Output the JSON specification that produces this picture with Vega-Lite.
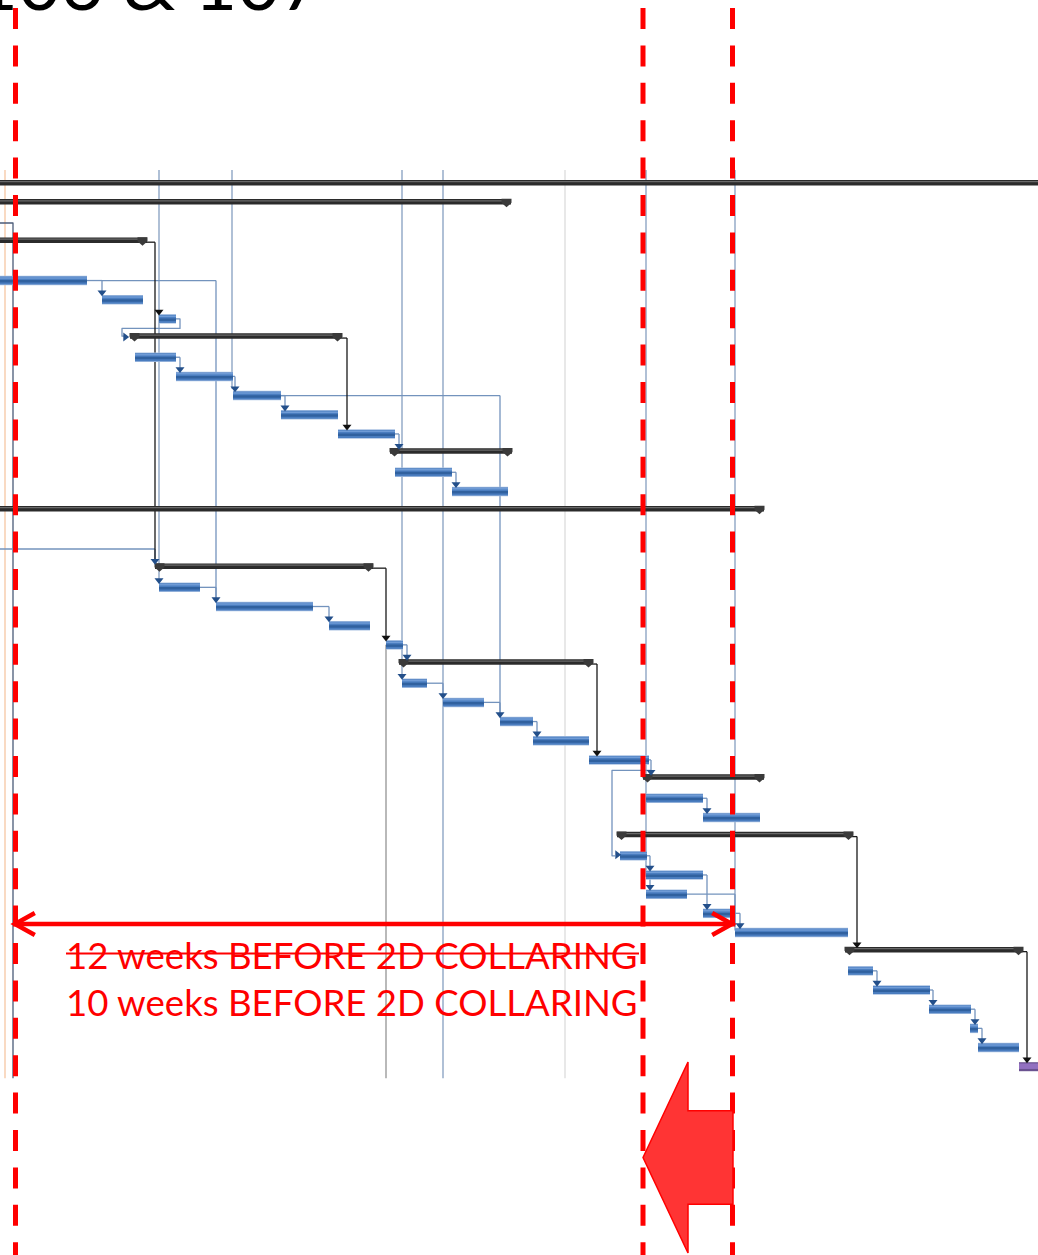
{
  "$schema": "https://vega.github.io/schema/vega-lite/v6.json",
  "width": 1038,
  "height": 1255,
  "autosize": "none",
  "padding": 0,
  "background": "white",
  "config": {"view": {"stroke": null}},
  "datasets": {
    "tasks": [
      {"r": 5, "s": -2, "e": 8.7}, {"r": 6, "s": 10.2, "e": 14.3}, {"r": 7, "s": 15.9, "e": 17.6},
      {"r": 9, "s": 13.5, "e": 17.6}, {"r": 10, "s": 17.6, "e": 23.3}, {"r": 11, "s": 23.3, "e": 28.1},
      {"r": 12, "s": 28.1, "e": 33.8}, {"r": 13, "s": 33.8, "e": 39.5}, {"r": 15, "s": 39.5, "e": 45.2},
      {"r": 16, "s": 45.2, "e": 50.8}, {"r": 21, "s": 15.9, "e": 20.0}, {"r": 22, "s": 21.6, "e": 31.3},
      {"r": 23, "s": 32.9, "e": 37.0}, {"r": 24, "s": 38.6, "e": 40.3}, {"r": 26, "s": 40.2, "e": 42.7},
      {"r": 27, "s": 44.3, "e": 48.4}, {"r": 28, "s": 50.0, "e": 53.3}, {"r": 29, "s": 53.3, "e": 58.9},
      {"r": 30, "s": 58.9, "e": 64.9}, {"r": 32, "s": 64.6, "e": 70.3}, {"r": 33, "s": 70.3, "e": 76.0},
      {"r": 35, "s": 62.0, "e": 64.7}, {"r": 36, "s": 64.6, "e": 70.3}, {"r": 37, "s": 64.6, "e": 68.7},
      {"r": 38, "s": 70.3, "e": 73.2}, {"r": 39, "s": 73.5, "e": 84.8}, {"r": 41, "s": 84.8, "e": 87.3},
      {"r": 42, "s": 87.3, "e": 93.0}, {"r": 43, "s": 92.9, "e": 97.1}, {"r": 44, "s": 97.0, "e": 97.8},
      {"r": 45, "s": 97.8, "e": 101.9}
    ],
    "ms": [{"r": 46, "s": 101.9, "e": 104.5}],
    "sums": [
      {"r": 0, "s": -2, "e": 106}, {"r": 1, "s": -2, "e": 51.1}, {"r": 3, "s": -2, "e": 14.7},
      {"r": 8, "s": 13.0, "e": 34.2}, {"r": 14, "s": 39.0, "e": 51.2}, {"r": 17, "s": -2, "e": 76.4},
      {"r": 20, "s": 15.5, "e": 37.3}, {"r": 25, "s": 39.9, "e": 59.3}, {"r": 31, "s": 64.3, "e": 76.4},
      {"r": 34, "s": 61.7, "e": 85.3}, {"r": 40, "s": 84.5, "e": 102.3}
    ],
    "links": [
      {"x1": 8.7, "xt": 10.2, "r1": 5, "r2": 6, "k": "blue"},
      {"x1": 10.2, "xt": 21.6, "r1": 5, "r2": 22, "k": "blue"},
      {"x1": 17.6, "xt": 18.0, "r1": 9, "r2": 10, "k": "blue"},
      {"x1": 23.3, "xt": 23.5, "r1": 10, "r2": 11, "k": "blue"},
      {"x1": 28.1, "xt": 28.5, "r1": 11, "r2": 12, "k": "blue"},
      {"x1": 28.1, "xt": 50.0, "r1": 11, "r2": 28, "k": "blue"},
      {"x1": 39.5, "xt": 39.9, "r1": 13, "r2": 14, "k": "blue"},
      {"x1": 45.2, "xt": 45.6, "r1": 15, "r2": 16, "k": "blue"},
      {"x1": -2, "xt": 15.5, "r1": 19, "r2": 20, "k": "blue"},
      {"x1": 20.0, "xt": 21.6, "r1": 21, "r2": 22, "k": "blue"},
      {"x1": 31.3, "xt": 32.9, "r1": 22, "r2": 23, "k": "blue"},
      {"x1": 40.3, "xt": 40.7, "r1": 24, "r2": 25, "k": "blue"},
      {"x1": 42.7, "xt": 44.3, "r1": 26, "r2": 27, "k": "blue"},
      {"x1": 48.4, "xt": 50.0, "r1": 27, "r2": 28, "k": "blue"},
      {"x1": 53.3, "xt": 53.7, "r1": 28, "r2": 29, "k": "blue"},
      {"x1": 64.9, "xt": 65.1, "r1": 30, "r2": 31, "k": "blue"},
      {"x1": 70.3, "xt": 70.7, "r1": 32, "r2": 33, "k": "blue"},
      {"x1": 64.7, "xt": 65.0, "r1": 35, "r2": 37, "k": "blue"},
      {"x1": 70.3, "xt": 70.7, "r1": 36, "r2": 38, "k": "blue"},
      {"x1": 68.7, "xt": 73.5, "r1": 37, "r2": 39, "k": "blue"},
      {"x1": 73.2, "xt": 74.0, "r1": 38, "r2": 39, "k": "blue"},
      {"x1": 87.3, "xt": 87.7, "r1": 41, "r2": 42, "k": "blue"},
      {"x1": 93.0, "xt": 93.3, "r1": 42, "r2": 43, "k": "blue"},
      {"x1": 97.1, "xt": 97.5, "r1": 43, "r2": 44, "k": "blue"},
      {"x1": 97.8, "xt": 98.2, "r1": 44, "r2": 45, "k": "blue"},
      {"x1": 14.7, "xt": 15.5, "r1": 3, "r2": 20, "k": "black"},
      {"x1": 34.2, "xt": 34.7, "r1": 8, "r2": 13, "k": "black"},
      {"x1": 37.3, "xt": 38.6, "r1": 20, "r2": 24, "k": "black"},
      {"x1": 59.3, "xt": 59.7, "r1": 25, "r2": 30, "k": "black"},
      {"x1": 85.3, "xt": 85.7, "r1": 34, "r2": 40, "k": "black"},
      {"x1": 102.3, "xt": 102.7, "r1": 40, "r2": 46, "k": "black"}
    ],
    "paths": [
      {"id": 1, "o": 1, "x": 17.6, "r": 7, "k": "blue"}, {"id": 1, "o": 2, "x": 18.0, "r": 7, "k": "blue"},
      {"id": 1, "o": 3, "x": 18.0, "r": 7.5, "k": "blue"}, {"id": 1, "o": 4, "x": 12.2, "r": 7.5, "k": "blue"},
      {"id": 1, "o": 5, "x": 12.2, "r": 7.9, "k": "blue"}, {"id": 1, "o": 6, "x": 12.4, "r": 7.9, "k": "blue"},
      {"id": 2, "o": 1, "x": 65.1, "r": 30.55, "k": "blue"}, {"id": 2, "o": 2, "x": 61.2, "r": 30.55, "k": "blue"},
      {"id": 2, "o": 3, "x": 61.2, "r": 35, "k": "blue"}, {"id": 2, "o": 4, "x": 61.5, "r": 35, "k": "blue"},
      {"id": 3, "o": 1, "x": -2, "r": 2.0, "k": "dark"}, {"id": 3, "o": 2, "x": 1.3, "r": 2.0, "k": "dark"},
      {"id": 3, "o": 3, "x": 1.3, "r": 46.6, "k": "dark"}
    ],
    "vlines": [
      {"x": 0.5, "r1": -0.66, "r2": 46.7, "k": "orange"},
      {"x": 15.9, "r1": -0.66, "r2": 20.75, "k": "status"},
      {"x": 23.2, "r1": -0.66, "r2": 10.75, "k": "status"},
      {"x": 40.2, "r1": -0.66, "r2": 25.75, "k": "status"},
      {"x": 44.3, "r1": -0.66, "r2": 46.7, "k": "status"},
      {"x": 56.5, "r1": -0.66, "r2": 46.7, "k": "light"},
      {"x": 64.6, "r1": -0.66, "r2": 36.2, "k": "status"},
      {"x": 73.5, "r1": -0.66, "r2": 39.0, "k": "status"},
      {"x": 38.6, "r1": 24.1, "r2": 46.7, "k": "gray"}
    ],
    "arrD": [
      {"x": 10.2, "r": 6}, {"x": 21.6, "r": 22}, {"x": 18.0, "r": 10}, {"x": 23.5, "r": 11},
      {"x": 28.5, "r": 12}, {"x": 50.0, "r": 28}, {"x": 39.9, "r": 14}, {"x": 45.6, "r": 16},
      {"x": 15.5, "r": 20}, {"x": 15.9, "r": 21}, {"x": 32.9, "r": 23}, {"x": 40.7, "r": 25},
      {"x": 40.2, "r": 26}, {"x": 44.3, "r": 27}, {"x": 53.7, "r": 29}, {"x": 65.1, "r": 31},
      {"x": 70.7, "r": 33}, {"x": 65.0, "r": 36}, {"x": 65.0, "r": 37}, {"x": 70.7, "r": 38},
      {"x": 74.0, "r": 39}, {"x": 87.7, "r": 42}, {"x": 93.3, "r": 43}, {"x": 97.5, "r": 44},
      {"x": 98.2, "r": 45}
    ],
    "arrDk": [
      {"x": 15.9, "r": 7}, {"x": 34.7, "r": 13}, {"x": 38.6, "r": 24}, {"x": 59.7, "r": 30},
      {"x": 85.7, "r": 40}, {"x": 102.7, "r": 46}
    ],
    "arrR": [{"x": 12.6, "r": 8}, {"x": 61.8, "r": 35}],
    "redv": [
      {"x": 1.55, "y1": -9.11, "y2": 56.5}, {"x": 64.3, "y1": -9.11, "y2": 56.5}, {"x": 73.25, "y1": -9.11, "y2": 56.5}
    ],
    "span": [{"x1": 1.6, "x2": 73.1, "r": 38.66}],
    "notes": [
      {"x": 6.6, "r": 41.0, "t": "12 weeks BEFORE 2D COLLARING"},
      {"x": 6.6, "r": 43.45, "t": "10 weeks BEFORE 2D COLLARING"}
    ],
    "strike": [{"x1": 6.6, "x2": 63.9, "r": 40.2}],
    "title": [{"x": -2.5, "r": -9.0, "t": "106 & 107"}],
    "bigarrow": [{"x": 68.8, "r": 50.84}]
  },
  "layer": [
    {
      "data": {"name": "vlines"},
      "mark": {"type": "rule", "strokeWidth": 1.2},
      "encoding": {
        "x": {"field": "x", "type": "quantitative", "scale": {"domain": [0, 103.8], "nice": false, "zero": false}, "axis": null},
        "y": {"field": "r1", "type": "quantitative", "scale": {"domain": [-9.526, 55.924], "reverse": true, "nice": false, "zero": false}, "axis": null},
        "y2": {"field": "r2"},
        "color": {"field": "k", "type": "nominal", "legend": null, "scale": {"domain": ["blue", "black", "dark", "status", "light", "orange", "gray"], "range": ["#7393bd", "#1a1a1a", "#4b5b78", "#7b96bb", "#d9d9d9", "#f5c29a", "#8a8a8a"]}}
      }
    },
    {
      "data": {"name": "paths"},
      "mark": {"type": "line", "strokeWidth": 1.3, "yOffset": 2, "strokeJoin": "round"},
      "encoding": {
        "x": {"field": "x", "type": "quantitative", "scale": {"domain": [0, 103.8], "nice": false, "zero": false}, "axis": null},
        "y": {"field": "r", "type": "quantitative", "scale": {"domain": [-9.526, 55.924], "reverse": true, "nice": false, "zero": false}, "axis": null},
        "detail": {"field": "id", "type": "nominal"},
        "order": {"field": "o", "type": "quantitative"},
        "color": {"field": "k", "type": "nominal", "legend": null, "scale": {"domain": ["blue", "black", "dark", "status", "light", "orange", "gray"], "range": ["#7393bd", "#1a1a1a", "#4b5b78", "#7b96bb", "#d9d9d9", "#f5c29a", "#8a8a8a"]}}
      }
    },
    {
      "data": {"name": "links"},
      "mark": {"type": "rule", "strokeWidth": 1.3, "yOffset": 2},
      "encoding": {
        "x": {"field": "x1", "type": "quantitative", "scale": {"domain": [0, 103.8], "nice": false, "zero": false}, "axis": null},
        "x2": {"field": "xt"},
        "y": {"field": "r1", "type": "quantitative", "scale": {"domain": [-9.526, 55.924], "reverse": true, "nice": false, "zero": false}, "axis": null},
        "color": {"field": "k", "type": "nominal", "legend": null, "scale": {"domain": ["blue", "black", "dark", "status", "light", "orange", "gray"], "range": ["#7393bd", "#1a1a1a", "#4b5b78", "#7b96bb", "#d9d9d9", "#f5c29a", "#8a8a8a"]}}
      }
    },
    {
      "data": {"name": "links"},
      "mark": {"type": "rule", "strokeWidth": 1.3, "yOffset": 2, "y2Offset": -4},
      "encoding": {
        "x": {"field": "xt", "type": "quantitative", "scale": {"domain": [0, 103.8], "nice": false, "zero": false}, "axis": null},
        "y": {"field": "r1", "type": "quantitative", "scale": {"domain": [-9.526, 55.924], "reverse": true, "nice": false, "zero": false}, "axis": null},
        "y2": {"field": "r2"},
        "color": {"field": "k", "type": "nominal", "legend": null, "scale": {"domain": ["blue", "black", "dark", "status", "light", "orange", "gray"], "range": ["#7393bd", "#1a1a1a", "#4b5b78", "#7b96bb", "#d9d9d9", "#f5c29a", "#8a8a8a"]}}
      }
    },
    {
      "data": {"name": "tasks"},
      "mark": {"type": "rule", "strokeWidth": 9.5, "stroke": "#a9c1e2", "yOffset": 2},
      "encoding": {
        "x": {"field": "s", "type": "quantitative", "scale": {"domain": [0, 103.8], "nice": false, "zero": false}, "axis": null},
        "x2": {"field": "e"},
        "y": {"field": "r", "type": "quantitative", "scale": {"domain": [-9.526, 55.924], "reverse": true, "nice": false, "zero": false}, "axis": null}
      }
    },
    {
      "data": {"name": "tasks"},
      "mark": {"type": "rule", "strokeWidth": 8, "stroke": "#4a7dbf", "yOffset": 2},
      "encoding": {
        "x": {"field": "s", "type": "quantitative", "scale": {"domain": [0, 103.8], "nice": false, "zero": false}, "axis": null},
        "x2": {"field": "e"},
        "y": {"field": "r", "type": "quantitative", "scale": {"domain": [-9.526, 55.924], "reverse": true, "nice": false, "zero": false}, "axis": null}
      }
    },
    {
      "data": {"name": "tasks"},
      "mark": {"type": "rule", "strokeWidth": 2.5, "stroke": "#30619f", "yOffset": 2.8},
      "encoding": {
        "x": {"field": "s", "type": "quantitative", "scale": {"domain": [0, 103.8], "nice": false, "zero": false}, "axis": null},
        "x2": {"field": "e"},
        "y": {"field": "r", "type": "quantitative", "scale": {"domain": [-9.526, 55.924], "reverse": true, "nice": false, "zero": false}, "axis": null}
      }
    },
    {
      "data": {"name": "tasks"},
      "mark": {"type": "rule", "strokeWidth": 1.5, "stroke": "#6f9bd6", "yOffset": -0.6},
      "encoding": {
        "x": {"field": "s", "type": "quantitative", "scale": {"domain": [0, 103.8], "nice": false, "zero": false}, "axis": null},
        "x2": {"field": "e"},
        "y": {"field": "r", "type": "quantitative", "scale": {"domain": [-9.526, 55.924], "reverse": true, "nice": false, "zero": false}, "axis": null}
      }
    },
    {
      "data": {"name": "ms"},
      "mark": {"type": "rule", "strokeWidth": 9, "stroke": "#6a5290", "yOffset": 2},
      "encoding": {
        "x": {"field": "s", "type": "quantitative", "scale": {"domain": [0, 103.8], "nice": false, "zero": false}, "axis": null},
        "x2": {"field": "e"},
        "y": {"field": "r", "type": "quantitative", "scale": {"domain": [-9.526, 55.924], "reverse": true, "nice": false, "zero": false}, "axis": null}
      }
    },
    {
      "data": {"name": "ms"},
      "mark": {"type": "rule", "strokeWidth": 5.5, "stroke": "#9270c0", "yOffset": 1.5},
      "encoding": {
        "x": {"field": "s", "type": "quantitative", "scale": {"domain": [0, 103.8], "nice": false, "zero": false}, "axis": null},
        "x2": {"field": "e"},
        "y": {"field": "r", "type": "quantitative", "scale": {"domain": [-9.526, 55.924], "reverse": true, "nice": false, "zero": false}, "axis": null}
      }
    },
    {
      "data": {"name": "sums"},
      "mark": {"type": "rule", "strokeWidth": 5.5, "stroke": "#2b2b2b"},
      "encoding": {
        "x": {"field": "s", "type": "quantitative", "scale": {"domain": [0, 103.8], "nice": false, "zero": false}, "axis": null},
        "x2": {"field": "e"},
        "y": {"field": "r", "type": "quantitative", "scale": {"domain": [-9.526, 55.924], "reverse": true, "nice": false, "zero": false}, "axis": null}
      }
    },
    {
      "data": {"name": "sums"},
      "mark": {"type": "rule", "strokeWidth": 1.3, "stroke": "#6a6a6a", "yOffset": -1},
      "encoding": {
        "x": {"field": "s", "type": "quantitative", "scale": {"domain": [0, 103.8], "nice": false, "zero": false}, "axis": null},
        "x2": {"field": "e"},
        "y": {"field": "r", "type": "quantitative", "scale": {"domain": [-9.526, 55.924], "reverse": true, "nice": false, "zero": false}, "axis": null}
      }
    },
    {
      "data": {"name": "sums"},
      "mark": {"type": "point", "shape": "M-1,-0.7L1,-0.7L1,0.1L0,1L-1,0.1Z", "size": 100, "filled": true, "fill": "#3a3a3a", "opacity": 1, "strokeWidth": 0, "xOffset": 4.5, "yOffset": 0.5},
      "encoding": {
        "x": {"field": "s", "type": "quantitative", "scale": {"domain": [0, 103.8], "nice": false, "zero": false}, "axis": null},
        "y": {"field": "r", "type": "quantitative", "scale": {"domain": [-9.526, 55.924], "reverse": true, "nice": false, "zero": false}, "axis": null}
      }
    },
    {
      "data": {"name": "sums"},
      "mark": {"type": "point", "shape": "M-1,-0.7L1,-0.7L1,0.1L0,1L-1,0.1Z", "size": 100, "filled": true, "fill": "#3a3a3a", "opacity": 1, "strokeWidth": 0, "xOffset": -4.5, "yOffset": 0.5},
      "encoding": {
        "x": {"field": "e", "type": "quantitative", "scale": {"domain": [0, 103.8], "nice": false, "zero": false}, "axis": null},
        "y": {"field": "r", "type": "quantitative", "scale": {"domain": [-9.526, 55.924], "reverse": true, "nice": false, "zero": false}, "axis": null}
      }
    },
    {
      "data": {"name": "arrD"},
      "mark": {"type": "point", "shape": "M-1,-0.6L1,-0.6L0,0.7Z", "size": 81, "filled": true, "fill": "#234f8a", "opacity": 1, "strokeWidth": 0, "yOffset": -4.5},
      "encoding": {
        "x": {"field": "x", "type": "quantitative", "scale": {"domain": [0, 103.8], "nice": false, "zero": false}, "axis": null},
        "y": {"field": "r", "type": "quantitative", "scale": {"domain": [-9.526, 55.924], "reverse": true, "nice": false, "zero": false}, "axis": null}
      }
    },
    {
      "data": {"name": "arrDk"},
      "mark": {"type": "point", "shape": "M-1,-0.6L1,-0.6L0,0.7Z", "size": 81, "filled": true, "fill": "#111111", "opacity": 1, "strokeWidth": 0, "yOffset": -4.5},
      "encoding": {
        "x": {"field": "x", "type": "quantitative", "scale": {"domain": [0, 103.8], "nice": false, "zero": false}, "axis": null},
        "y": {"field": "r", "type": "quantitative", "scale": {"domain": [-9.526, 55.924], "reverse": true, "nice": false, "zero": false}, "axis": null}
      }
    },
    {
      "data": {"name": "arrR"},
      "mark": {"type": "point", "shape": "M-0.6,-1L-0.6,1L0.7,0Z", "size": 81, "filled": true, "fill": "#234f8a", "opacity": 1, "strokeWidth": 0, "yOffset": 1},
      "encoding": {
        "x": {"field": "x", "type": "quantitative", "scale": {"domain": [0, 103.8], "nice": false, "zero": false}, "axis": null},
        "y": {"field": "r", "type": "quantitative", "scale": {"domain": [-9.526, 55.924], "reverse": true, "nice": false, "zero": false}, "axis": null}
      }
    },
    {
      "data": {"name": "redv"},
      "mark": {"type": "rule", "stroke": "#ff0000", "strokeWidth": 5, "strokeDash": [21, 16.4]},
      "encoding": {
        "x": {"field": "x", "type": "quantitative", "scale": {"domain": [0, 103.8], "nice": false, "zero": false}, "axis": null},
        "y": {"field": "y1", "type": "quantitative", "scale": {"domain": [-9.526, 55.924], "reverse": true, "nice": false, "zero": false}, "axis": null},
        "y2": {"field": "y2"}
      }
    },
    {
      "data": {"name": "span"},
      "mark": {"type": "rule", "stroke": "#ff0000", "strokeWidth": 4.5},
      "encoding": {
        "x": {"field": "x1", "type": "quantitative", "scale": {"domain": [0, 103.8], "nice": false, "zero": false}, "axis": null},
        "x2": {"field": "x2"},
        "y": {"field": "r", "type": "quantitative", "scale": {"domain": [-9.526, 55.924], "reverse": true, "nice": false, "zero": false}, "axis": null}
      }
    },
    {
      "data": {"name": "span"},
      "mark": {"type": "point", "shape": "M1.8,-1L0,0L1.8,1", "size": 484, "filled": false, "stroke": "#ff0000", "strokeWidth": 4.5, "opacity": 1, "xOffset": -1},
      "encoding": {
        "x": {"field": "x1", "type": "quantitative", "scale": {"domain": [0, 103.8], "nice": false, "zero": false}, "axis": null},
        "y": {"field": "r", "type": "quantitative", "scale": {"domain": [-9.526, 55.924], "reverse": true, "nice": false, "zero": false}, "axis": null}
      }
    },
    {
      "data": {"name": "span"},
      "mark": {"type": "point", "shape": "M-1.8,-1L0,0L-1.8,1", "size": 484, "filled": false, "stroke": "#ff0000", "strokeWidth": 4.5, "opacity": 1, "xOffset": 1},
      "encoding": {
        "x": {"field": "x2", "type": "quantitative", "scale": {"domain": [0, 103.8], "nice": false, "zero": false}, "axis": null},
        "y": {"field": "r", "type": "quantitative", "scale": {"domain": [-9.526, 55.924], "reverse": true, "nice": false, "zero": false}, "axis": null}
      }
    },
    {
      "data": {"name": "notes"},
      "mark": {"type": "text", "font": "Lato", "fontSize": 36.6, "fill": "#ff0000", "align": "left", "baseline": "alphabetic"},
      "encoding": {
        "x": {"field": "x", "type": "quantitative", "scale": {"domain": [0, 103.8], "nice": false, "zero": false}, "axis": null},
        "y": {"field": "r", "type": "quantitative", "scale": {"domain": [-9.526, 55.924], "reverse": true, "nice": false, "zero": false}, "axis": null},
        "text": {"field": "t"}
      }
    },
    {
      "data": {"name": "strike"},
      "mark": {"type": "rule", "stroke": "#ff0000", "strokeWidth": 2},
      "encoding": {
        "x": {"field": "x1", "type": "quantitative", "scale": {"domain": [0, 103.8], "nice": false, "zero": false}, "axis": null},
        "x2": {"field": "x2"},
        "y": {"field": "r", "type": "quantitative", "scale": {"domain": [-9.526, 55.924], "reverse": true, "nice": false, "zero": false}, "axis": null}
      }
    },
    {
      "data": {"name": "title"},
      "mark": {"type": "text", "font": "Lato", "fontSize": 74, "fill": "#000000", "align": "left", "baseline": "alphabetic"},
      "encoding": {
        "x": {"field": "x", "type": "quantitative", "scale": {"domain": [0, 103.8], "nice": false, "zero": false}, "axis": null},
        "y": {"field": "r", "type": "quantitative", "scale": {"domain": [-9.526, 55.924], "reverse": true, "nice": false, "zero": false}, "axis": null},
        "text": {"field": "t"}
      }
    },
    {
      "data": {"name": "bigarrow"},
      "mark": {"type": "point", "shape": "M-0.471,0L0,-1L0,-0.49L0.471,-0.49L0.471,0.49L0,0.49L0,1Z", "size": 36481, "filled": true, "fill": "#ff3434", "stroke": "#ff0000", "strokeWidth": 1.5, "opacity": 1},
      "encoding": {
        "x": {"field": "x", "type": "quantitative", "scale": {"domain": [0, 103.8], "nice": false, "zero": false}, "axis": null},
        "y": {"field": "r", "type": "quantitative", "scale": {"domain": [-9.526, 55.924], "reverse": true, "nice": false, "zero": false}, "axis": null}
      }
    }
  ]
}
